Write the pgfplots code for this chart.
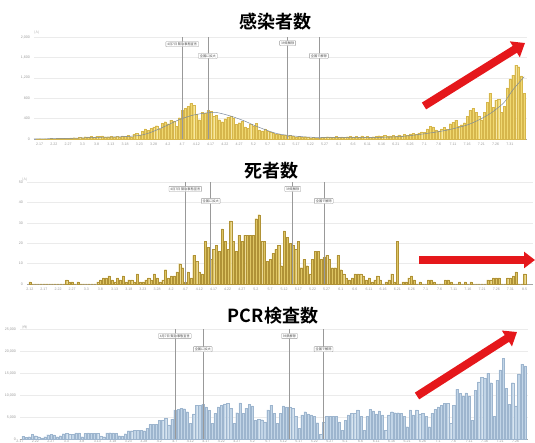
\documentclass[border=0pt]{standalone}
\usepackage{fontspec}
\setmainfont{Liberation Sans}
\newfontfamily\cjk{Noto Sans CJK JP}[BoldFont={Noto Sans CJK JP Bold}]
\usepackage{pgfplots}
\pgfplotsset{compat=1.18}
\usepackage{pgfplotstable}
\usetikzlibrary{arrows.meta}

\definecolor{caseY}{HTML}{F0D870}
\definecolor{caseE}{HTML}{D6B64C}
\definecolor{deathY}{HTML}{DEC563}
\definecolor{deathE}{HTML}{B09236}
\definecolor{pcrB}{HTML}{C2D5E7}
\definecolor{pcrE}{HTML}{9DB5CE}
\definecolor{trend}{HTML}{7C8A9C}
\definecolor{arrowred}{HTML}{E5171B}
\definecolor{gridc}{HTML}{EBEBEB}
\definecolor{tickc}{HTML}{9A9A9A}

% daily new cases, index 0 = 2.16
\pgfplotstableread[row sep=\\]{
v\\
3\\5\\2\\8\\4\\10\\6\\12\\9\\15\\11\\
18\\22\\25\\15\\30\\28\\45\\40\\50\\35\\
55\\48\\60\\40\\45\\55\\38\\50\\42\\60\\
55\\70\\45\\90\\110\\85\\150\\200\\170\\210\\
240\\260\\190\\310\\340\\300\\370\\350\\250\\420\\
560\\600\\640\\700\\660\\480\\380\\520\\500\\560\\
540\\440\\470\\380\\340\\400\\430\\450\\410\\290\\
320\\350\\240\\210\\290\\250\\310\\180\\160\\200\\
150\\130\\110\\90\\100\\70\\80\\60\\75\\50\\
40\\55\\30\\45\\35\\25\\30\\20\\28\\35\\
30\\45\\40\\35\\50\\38\\42\\30\\45\\55\\
40\\48\\35\\60\\42\\50\\38\\45\\55\\65\\
48\\70\\52\\60\\75\\55\\80\\65\\90\\70\\
100\\110\\95\\120\\140\\130\\200\\250\\240\\180\\
160\\200\\230\\190\\300\\330\\370\\250\\280\\320\\
450\\560\\600\\520\\440\\380\\520\\720\\900\\620\\
760\\780\\520\\640\\1000\\1180\\1250\\1450\\1420\\1240\\900\\
}\casesdata

% daily deaths, index -4 = 2.12
\pgfplotstableread[row sep=\\]{
v\\
1\\0\\0\\0\\0\\0\\0\\0\\0\\0\\0\\0\\0\\
2\\1\\1\\0\\1\\0\\0\\0\\0\\0\\0\\
1\\2\\3\\3\\4\\2\\1\\3\\2\\4\\
1\\2\\2\\1\\5\\1\\1\\2\\3\\2\\
5\\3\\1\\2\\7\\3\\4\\4\\6\\10\\
8\\1\\6\\3\\14\\11\\6\\5\\21\\18\\
12\\17\\19\\16\\27\\21\\17\\31\\21\\16\\
24\\21\\24\\24\\24\\24\\32\\34\\21\\21\\
11\\12\\15\\17\\19\\9\\26\\23\\20\\19\\
17\\21\\8\\12\\9\\5\\12\\16\\16\\12\\
13\\14\\12\\8\\8\\14\\7\\5\\3\\2\\
3\\5\\5\\5\\4\\2\\3\\1\\2\\4\\
2\\0\\1\\2\\5\\1\\21\\0\\1\\1\\
3\\4\\2\\0\\1\\0\\0\\2\\2\\1\\
0\\0\\0\\2\\2\\1\\0\\0\\1\\0\\
1\\0\\1\\0\\0\\0\\0\\0\\2\\2\\
3\\3\\3\\0\\0\\3\\3\\4\\6\\0\\0\\5\\
}\deathsdata

% daily PCR tests, index 2 = 2.18
\pgfplotstableread[row sep=\\]{
v\\
680\\380\\530\\1130\\760\\530\\230\\530\\1000\\1050\\
950\\530\\760\\1200\\1250\\1150\\1100\\1400\\1400\\530\\
1300\\1400\\1350\\1300\\1250\\700\\530\\1400\\1450\\1400\\
1350\\760\\700\\1200\\1900\\1900\\2000\\1950\\2000\\1900\\
2400\\3300\\3300\\3400\\4200\\4300\\4700\\3200\\4500\\6600\\
6700\\7000\\6900\\6200\\3600\\5700\\7600\\7600\\7900\\7300\\
6500\\3600\\5800\\7300\\7700\\8000\\8100\\7000\\3600\\6000\\
8200\\5800\\7000\\7900\\7500\\4300\\4500\\4400\\3900\\6600\\
7700\\5800\\3600\\5800\\7500\\7300\\7300\\7000\\5200\\2400\\
5500\\6200\\5700\\5500\\5100\\3700\\1100\\3900\\5100\\5100\\
5100\\5100\\3900\\2000\\4300\\5500\\5800\\5800\\6600\\5200\\
2000\\5100\\6700\\6400\\5700\\6400\\5500\\2000\\5500\\6200\\
6000\\6000\\5800\\5200\\2800\\6600\\5500\\6600\\5700\\5800\\
5200\\2800\\5800\\6700\\7300\\7700\\8100\\8100\\3600\\7700\\
11300\\10400\\9800\\10500\\9800\\4300\\11100\\13000\\14000\\13800\\
14900\\12800\\5200\\13400\\15700\\18300\\11500\\7900\\12800\\7500\\
14800\\17000\\16600\\
}\pcrdata

\def\datelabels{2.17,2.22,2.27,3.3,3.8,3.13,3.18,3.23,3.28,4.2,4.7,4.12,4.17,4.22,4.27,5.2,5.7,5.12,5.17,5.22,5.27,6.1,6.6,6.11,6.16,6.21,6.26,7.1,7.6,7.11,7.16,7.21,7.26,7.31}
\edef\datelabelsB{2.12,\datelabels,8.5}

\pgfplotsset{
  panel/.style={
    scale only axis, anchor=south west, clip=false,
    axis x line*=bottom, axis y line*=left,
    y axis line style={draw=none},
    x axis line style={draw=black!35, line width=0.4pt},
    ymajorgrids, grid style={draw=gridc, line width=0.4pt},
    major tick length=0pt,
    scaled y ticks=false,
    tick label style={font=\fontsize{3.6}{4}\selectfont, text=tickc},
    yticklabel style={xshift=-0.5pt},
    xticklabel style={yshift=-0.8pt},
    /pgf/number format/assume math mode=true,
  },
}
\tikzset{
  ann/.style={draw=black!40, fill=white, rounded corners=0.6pt, line width=0.35pt,
    font=\cjk\fontsize{3.2}{3.2}\selectfont, text=black!70,
    inner xsep=1.4pt, inner ysep=1.1pt},
  evline/.style={draw=black!40, line width=0.5pt},
}

\begin{document}
\begin{tikzpicture}[x=1pt,y=1pt]
\useasboundingbox (0pt,0pt) rectangle (535pt,443pt);

% ---------- 感染者数 ----------
\begin{axis}[panel, at={(34pt,304pt)}, width=493pt, height=102pt,
  xmin=-1, xmax=172, ymin=0, ymax=2000, ytick={0,400,...,2000},
  xtick={1,6,...,166}, xticklabels/.expand once=\datelabels]
\addplot[ybar, bar width=2.1pt, fill=caseY, draw=caseE, line width=0.12pt]
  table[x expr=\coordindex, y=v] {\casesdata};
\addplot[trend, line width=0.5pt, smooth, no marks] coordinates {
  (-1,2) (10,10) (20,30) (30,45) (36,70) (40,130) (45,250) (50,380) (55,470)
  (60,515) (63,520) (68,450) (73,350) (77,250) (84,110) (90,60) (96,35)
  (102,28) (110,25) (120,32) (128,50) (137,110) (144,175) (151,275)
  (156,400) (160,535) (164,720) (167,960) (171,1220)};
\draw[evline] (axis cs:51,0) -- (axis cs:51,2000);
\draw[evline] (axis cs:60,0) -- (axis cs:60,2000);
\draw[evline] (axis cs:88,0) -- (axis cs:88,2000);
\draw[evline] (axis cs:99,0) -- (axis cs:99,2000);
\node[ann] at (axis cs:51,1860) {4月7日 緊急事態宣言};
\node[ann] at (axis cs:60,1630) {全国に拡大};
\node[ann] at (axis cs:88,1880) {39県解除};
\node[ann] at (axis cs:99,1630) {全国で解除};
\end{axis}

% ---------- 死者数 ----------
\begin{axis}[panel, at={(27pt,159pt)}, width=506pt, height=102pt,
  xmin=-5, xmax=174, ymin=0, ymax=50, ytick={0,10,...,50},
  xtick={-4,1,...,171}, xticklabels/.expand once=\datelabelsB]
\addplot[ybar, bar width=2.1pt, fill=deathY, draw=deathE, line width=0.15pt]
  table[x expr=\coordindex-4, y=v] {\deathsdata};
\draw[evline] (axis cs:51,0) -- (axis cs:51,50);
\draw[evline] (axis cs:60,0) -- (axis cs:60,50);
\draw[evline] (axis cs:89,0) -- (axis cs:89,50);
\draw[evline] (axis cs:100,0) -- (axis cs:100,50);
\node[ann] at (axis cs:51,46.6) {4月7日 緊急事態宣言};
\node[ann] at (axis cs:60,40.7) {全国に拡大};
\node[ann] at (axis cs:89,46.6) {39県解除};
\node[ann] at (axis cs:100,40.7) {全国で解除};
\end{axis}

% ---------- PCR検査数 ----------
\begin{axis}[panel, at={(20pt,4pt)}, width=508pt, height=110pt,
  xmin=1, xmax=165, ymin=0, ymax=25000, ytick={0,5000,...,25000},
  xtick={1,6,...,161}, xticklabels/.expand once=\datelabels,
  xticklabel style={yshift=0.6pt, inner sep=0.2pt}]
\addplot[ybar, bar width=2.3pt, fill=pcrB, draw=pcrE, line width=0.15pt]
  table[x expr=\coordindex+2, y=v] {\pcrdata};
\draw[evline] (axis cs:51,0) -- (axis cs:51,25000);
\draw[evline] (axis cs:60,0) -- (axis cs:60,25000);
\draw[evline] (axis cs:88,0) -- (axis cs:88,25000);
\draw[evline] (axis cs:99,0) -- (axis cs:99,25000);
\node[ann] at (axis cs:51,23400) {4月7日 緊急事態宣言};
\node[ann] at (axis cs:60,20400) {全国に拡大};
\node[ann] at (axis cs:88,23400) {39県解除};
\node[ann] at (axis cs:99,20400) {全国で解除};
\end{axis}

% titles
\node[font=\cjk\bfseries\fontsize{18}{18}\selectfont] at (275pt,421pt) {感染者数};
\node[font=\cjk\bfseries\fontsize{18}{18}\selectfont] at (271pt,272pt) {死者数};
\node[font=\cjk\bfseries\fontsize{18}{18}\selectfont] at (273pt,127pt) {PCR検査数};

% units
\node[anchor=west, font=\cjk\fontsize{3.2}{3.2}\selectfont, text=tickc, inner sep=0pt] at (34pt,410pt) {(人)};
\node[anchor=west, font=\cjk\fontsize{3.2}{3.2}\selectfont, text=tickc, inner sep=0pt] at (22pt,263pt) {(人)};
\node[anchor=west, font=\cjk\fontsize{3.2}{3.2}\selectfont, text=tickc, inner sep=0pt] at (22pt,116pt) {(件)};

% red arrows
\draw[arrowred, line width=8pt, -{Triangle[width=18pt,length=12pt]}] (424pt,337pt) -- (525pt,400pt);
\draw[arrowred, line width=8pt, -{Triangle[width=16pt,length=11pt]}] (419pt,183pt) -- (535pt,183pt);
\draw[arrowred, line width=8pt, -{Triangle[width=18pt,length=12pt]}] (417pt,47pt) -- (517pt,111pt);
\end{tikzpicture}
\end{document}
